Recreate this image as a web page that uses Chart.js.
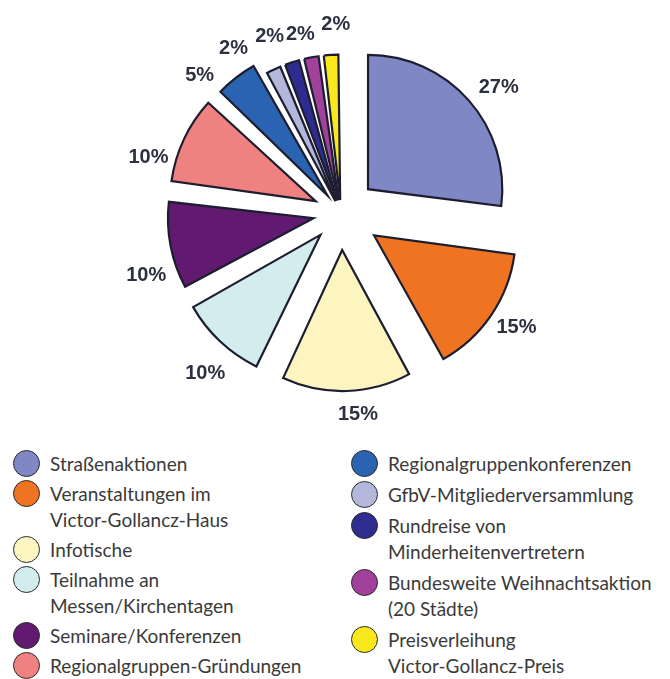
<!DOCTYPE html>
<html>
<head>
<meta charset="utf-8">
<script src="https://cdn.jsdelivr.net/npm/chart.js@4.4.1/dist/chart.umd.min.js"></script>
<style>
  html, body { margin: 0; padding: 0; background: #fff; }
  body { width: 670px; height: 679px; position: relative; overflow: hidden; }
  #pieWrap { position: absolute; left: 100px; top: 0; width: 482px; height: 426px; }
  .legend { position: absolute; top: 451px; font-family: Lato, "Open Sans", sans-serif; font-size: 19px; color: #3a3a3a; line-height: 26px; }
  .legend .item { position: relative; padding-left: 37px; margin-bottom: 4px; white-space: pre-line; }
  #legendRight .item { margin-bottom: 5px; }
  .legend .dot { position: absolute; left: 0; top: -1px; width: 25px; height: 25px; border-radius: 50%; border: 1.5px solid #2a2a2a; }
</style>
</head>
<body>
<div id="pieWrap"><canvas id="pieChart" width="482" height="426"></canvas></div>
<div class="legend" id="legendLeft" style="left:13px"></div>
<div class="legend" id="legendRight" style="left:351px"></div>
<script>
// categories, clockwise from 12 o'clock
const categories = [
    "Straßenaktionen",
    "Veranstaltungen im\nVictor-Gollancz-Haus",
    "Infotische",
    "Teilnahme an\nMessen/Kirchentagen",
    "Seminare/Konferenzen",
    "Regionalgruppen-Gründungen",
    "Regionalgruppenkonferenzen",
    "GfbV-Mitgliederversammlung",
    "Rundreise von\nMinderheitenvertretern",
    "Bundesweite Weihnachtsaktion\n(20 Städte)",
    "Preisverleihung\nVictor-Gollancz-Preis",
];
const shares = [27, 15, 15, 10, 10, 10, 5, 2, 2, 2, 2];

const colors = [
    "#7f87c5", "#f07322", "#fdf5c0", "#d3ecee", "#611a6f", "#f08181",
    "#2a63b1", "#b3b7db", "#2e2d8f", "#a2419b", "#f8e81c",
];

// how far each slice is pulled out, px (Chart.js moves arcs by offset/4)
const sliceShift = [36, 40, 37, 30, 28, 28, 22, 13, 13, 13, 13];

const sliceLabels = {
    id: "sliceLabels",
    afterDatasetsDraw(chart, args, opts) {
        const ctx = chart.ctx;
        const meta = chart.getDatasetMeta(0);
        ctx.save();
        ctx.font = 'bold 20px "Liberation Sans", Arial, sans-serif';
        ctx.fillStyle = "#2c3040";
        ctx.textAlign = "center";
        ctx.textBaseline = "middle";
        meta.data.forEach((arc, i) => {
            const p = arc.getProps(["x", "y", "startAngle", "endAngle", "outerRadius", "circumference"]);
            const shift = arc.options.offset / 4;
            const fix = 1 - Math.sin(Math.min(Math.PI, p.circumference));
            const ang = (p.startAngle + p.endAngle) / 2 + opts.turn[i] * Math.PI / 180;
            const r = p.outerRadius + shift + shift * fix + opts.pad[i];
            ctx.fillText(shares[i] + "%", p.x + Math.cos(ang) * r, p.y + Math.sin(ang) * r);
        });
        ctx.restore();
    },
};

const ctx = document.getElementById("pieChart").getContext("2d");
new Chart(ctx, {
    type: "pie",
    data: {
        labels: categories,
        datasets: [{
            data: shares,
            backgroundColor: colors,
            borderColor: "#1d1d30",
            borderWidth: 2.2,
            borderJoinStyle: "miter",
            offset: sliceShift.map((s) => s * 4),
        }],
    },
    options: {
        responsive: false,
        animation: false,
        devicePixelRatio: 1,
        radius: 134,
        events: [],
        layout: { padding: 0 },
        plugins: {
            legend: { display: false },
            tooltip: { enabled: false },
            sliceLabels: {
                turn: [3, -1, -3, -3, -7, -9, -8, -8, -4, -2, 2],
                pad: [31, 28, 24, 34, 31, 27, 26, 38, 32, 25, 30],
            },
        },
    },
    plugins: [sliceLabels],
});

// legend, two columns
function fillLegend(el, from, to) {
    for (let i = from; i < to; i++) {
        const item = document.createElement("div");
        item.className = "item";
        const dot = document.createElement("span");
        dot.className = "dot";
        dot.style.background = colors[i];
        item.appendChild(dot);
        item.appendChild(document.createTextNode(categories[i]));
        el.appendChild(item);
    }
}
fillLegend(document.getElementById("legendLeft"), 0, 6);
fillLegend(document.getElementById("legendRight"), 6, 11);
</script>
</body>
</html>
